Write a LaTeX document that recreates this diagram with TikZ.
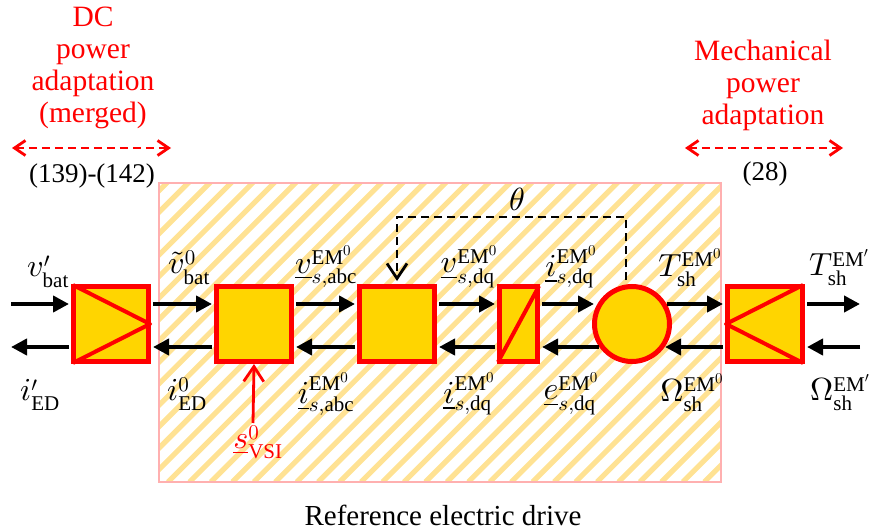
\documentclass[tikz,border=0pt]{standalone}
\usepackage{amsmath,amssymb}
\usepackage{xcolor}
\usepackage{fontspec}
\setmainfont{Liberation Serif}
\DeclareFontShape{OML}{cmm}{m}{it}{<->cmmi10}{}
\DeclareFontShape{OT1}{cmr}{m}{n}{<->cmr10}{}
\DeclareMathSizes{30}{32}{21}{15}
\usetikzlibrary{positioning,arrows.meta,calc}
\definecolor{blockgold}{HTML}{FFD500}
\definecolor{hatchgold}{HTML}{FFE293}
\definecolor{framepink}{HTML}{FFB0B0}
\begin{document}
\begin{tikzpicture}[x=1pt,y=1pt,
        block/.style={rectangle,draw=red,fill=blockgold,line width=5pt,inner sep=0pt,
                      minimum width=75pt,minimum height=75pt},
        slim/.style={block,minimum width=38pt},
        machine/.style={circle,draw=red,fill=blockgold,line width=5pt,inner sep=0pt,
                        minimum size=75pt},
        flow/.style={line width=4.6pt,-{Triangle[length=16pt,width=16pt]}},
        inner/.style={red,line width=4pt,line join=round},
        lbl/.style={font=\fontsize{30}{32}\selectfont,inner sep=0pt},
        txt/.style={font=\fontsize{27}{32}\selectfont,inner sep=0pt},
        note/.style={font=\fontsize{29.5}{32}\selectfont,inner sep=0pt,align=center,red},
        span/.style={red,line width=2.8pt,dash pattern=on 8pt off 5pt,
                     {Straight Barb[length=11pt,width=15pt]}-{Straight Barb[length=11pt,width=15pt]}},
        cmd/.style={line width=2.8pt,-{Straight Barb[length=15pt,width=20pt]}}]
        \useasboundingbox (0,0) rectangle (869,531);
        \begin{scope}
          \clip (159,49) rectangle (721,348);
          \foreach \s in {-153.75,-132.3,...,720}
            \draw[hatchgold,line width=5.2pt] (\s,49)--++(310,310);
        \end{scope}
        \node[draw=framepink,line width=2.4pt,minimum width=562pt,minimum height=299pt,inner sep=0pt]
          (frame) at (440,198.5) {};
        \node[block] (dcadapt) at (111,207) {};
        \node[block] (vsi) at (254,207) {};
        \node[block] (park) at (397,207) {};
        \node[slim] (dq) at (518.5,207) {};
        \node[machine] (em) at (632,207) {};
        \node[block] (mechadapt) at (765,207) {};
        \draw[inner] ([shift={(2pt,-1pt)}]dcadapt.north west)--([xshift=-1pt]dcadapt.east)--([shift={(2pt,1pt)}]dcadapt.south west);
        \draw[inner] ([shift={(1pt,2pt)}]dq.south west)--([shift={(-1pt,-2pt)}]dq.north east);
        \draw[inner] ([shift={(-2pt,-1pt)}]mechadapt.north east)--([xshift=1pt]mechadapt.west)--([shift={(-2pt,1pt)}]mechadapt.south east);
        \coordinate (batin) at (11,227);
        \coordinate (batout) at (11,184);
        \coordinate (shin) at (860,184);
        \coordinate (shout) at (860,227);
        \draw[flow] (batin)--([yshift=20pt,xshift=-2pt]dcadapt.west);
        \draw[flow] ([yshift=20pt,xshift=2pt]dcadapt.east)--([yshift=20pt,xshift=-2pt]vsi.west);
        \draw[flow] ([yshift=20pt,xshift=2pt]vsi.east)--([yshift=20pt,xshift=-2pt]park.west);
        \draw[flow] ([yshift=20pt,xshift=2pt]park.east)--([yshift=20pt,xshift=-2pt]dq.west);
        \draw[flow] ([yshift=20pt,xshift=2pt]dq.east)--([shift={(-38pt,20pt)}]em.center);
        \draw[flow] ([shift={(35pt,20pt)}]em.center)--([yshift=20pt,xshift=-2pt]mechadapt.west);
        \draw[flow] ([yshift=20pt,xshift=2pt]mechadapt.east)--(shout);
        \draw[flow] ([yshift=-23pt,xshift=-2pt]dcadapt.west)--(batout);
        \draw[flow] ([yshift=-23pt,xshift=-2pt]vsi.west)--([yshift=-23pt,xshift=2pt]dcadapt.east);
        \draw[flow] ([yshift=-23pt,xshift=-2pt]park.west)--([yshift=-23pt,xshift=2pt]vsi.east);
        \draw[flow] ([yshift=-23pt,xshift=-2pt]dq.west)--([yshift=-23pt,xshift=2pt]park.east);
        \draw[flow] ([shift={(-33pt,-23pt)}]em.center)--([yshift=-23pt,xshift=2pt]dq.east);
        \draw[flow] ([yshift=-23pt,xshift=-2pt]mechadapt.west)--([shift={(33pt,-23pt)}]em.center);
        \draw[flow] (shin)--([yshift=-23pt,xshift=2pt]mechadapt.east);
        \foreach \n/\x/\y/\tx in {
            vbat/48/259/{$v'_{\mathrm{bat}}$},
            vbatref/189/263/{$\tilde{v}^{0}_{\mathrm{bat}}$},
            vabc/326/264/{$\underline{v}^{\mathrm{EM}^0}_{s,\mathrm{abc}}$},
            vdq/469/264/{$\underline{v}^{\mathrm{EM}^0}_{s,\mathrm{dq}}$},
            idq/571/264/{$\underline{i}^{\mathrm{EM}^0}_{s,\mathrm{dq}}$},
            tem/690/263/{$T^{\mathrm{EM}^0}_{\mathrm{sh}}$},
            tsh/839/263/{$T^{\mathrm{EM}'}_{\mathrm{sh}}$},
            ied/40/136/{$i'_{\mathrm{ED}}$},
            iedref/187/137/{$i^{0}_{\mathrm{ED}}$},
            iabc/326/137/{$\underline{i}^{\mathrm{EM}^0}_{s,\mathrm{abc}}$},
            idqback/469/137/{$\underline{i}^{\mathrm{EM}^0}_{s,\mathrm{dq}}$},
            edq/571/137/{$\underline{e}^{\mathrm{EM}^0}_{s,\mathrm{dq}}$},
            omem/692/138/{$\Omega^{\mathrm{EM}^0}_{\mathrm{sh}}$},
            omsh/840/138/{$\Omega^{\mathrm{EM}'}_{\mathrm{sh}}$},
            theta/517/332/{$\theta$}}
          \node[lbl] (\n) at (\x,\y) {\tx};
        \node[txt] (eqdc) at (92,355) {(139)-(142)};
        \node[txt] (eqmech) at (765,357) {(28)};
        \node[txt,font=\fontsize{29}{32}\selectfont] (refname) at (443,16) {Reference electric drive};
        \node[lbl,red] (svsi) at (258,89) {$\underline{s}^{0}_{\mathrm{VSI}}$};
        \node[note] (dcnote) at (93,463) {DC\\power\\adaptation\\(merged)};
        \node[note] (mechnote) at (763,446) {Mechanical\\power\\adaptation};
        \coordinate (dcl) at (12,383);
        \coordinate (dcr) at (171,383);
        \coordinate (mechl) at (685,383);
        \coordinate (mechr) at (843,383);
        \coordinate (svsitail) at (253,108);
        \draw[span] (dcl)--(dcr);
        \draw[span] (mechl)--(mechr);
        \draw[cmd,red] (svsitail)--(vsi.south);
        \coordinate (thetaline) at (500,314);
        \draw[cmd,dash pattern=on 8pt off 5pt] ([xshift=-6pt,yshift=4pt]em.north) |- (thetaline) -| ([yshift=3pt]park.north);
\end{tikzpicture}
\end{document}
